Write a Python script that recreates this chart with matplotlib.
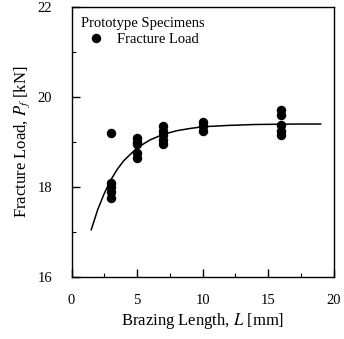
import matplotlib.pyplot as plt
from matplotlib.ticker import MultipleLocator

plt.rcParams['font.family'] = ['Liberation Serif', 'DejaVu Serif']
plt.rcParams['mathtext.fontset'] = 'stix'

# measured fracture loads per brazing length
length = [3, 3, 3, 3, 3,
          5, 5, 5, 5, 5,
          7, 7, 7, 7, 7,
          10, 10, 10,
          16, 16, 16, 16, 16]
load = [19.2, 18.1, 18.0, 17.9, 17.75,
        19.1, 19.0, 18.95, 18.75, 18.65,
        19.35, 19.25, 19.15, 19.05, 18.95,
        19.45, 19.35, 19.25,
        19.72, 19.6, 19.38, 19.25, 19.15]

# fitted curve
curve_x = [1.5, 2, 2.5, 3, 3.5, 4, 5, 6, 7, 8, 9, 10, 12, 14, 17, 19]
curve_y = [17.05, 17.5, 17.86, 18.16, 18.4, 18.59, 18.87, 19.05, 19.17,
           19.25, 19.3, 19.34, 19.37, 19.39, 19.4, 19.4]

fig = plt.figure(figsize=(3.44, 3.39), dpi=100)
ax = fig.add_axes([0.208, 0.183, 0.762, 0.796])

ax.plot(curve_x, curve_y, color='black', lw=1.1)
ax.plot(length, load, 'o', color='black', markersize=5.8, label='Fracture Load')

ax.set_xlim(0, 20)
ax.set_ylim(16, 22)
ax.xaxis.set_major_locator(MultipleLocator(5))
ax.xaxis.set_minor_locator(MultipleLocator(2.5))
ax.yaxis.set_major_locator(MultipleLocator(2))
ax.yaxis.set_minor_locator(MultipleLocator(1))
ax.tick_params(which='major', direction='in', length=6, width=1, labelsize=10.5, pad=12)
ax.tick_params(which='minor', direction='in', length=3, width=0.8)
ax.tick_params(axis='y', pad=14)
for s in ax.spines.values():
    s.set_linewidth(1)

ax.set_xlabel('Brazing Length, $L$ [mm]', fontsize=12, labelpad=3)
ax.set_ylabel('Fracture Load, $P_f$ [kN]', fontsize=12, labelpad=4)

leg = ax.legend(loc='upper left', title='Prototype Specimens', frameon=False,
                fontsize=10.5, title_fontsize=10.5, handletextpad=0.5,
                borderaxespad=0.35, borderpad=0.3, labelspacing=0.2)
leg._legend_box.align = 'left'

plt.savefig('out.png')
